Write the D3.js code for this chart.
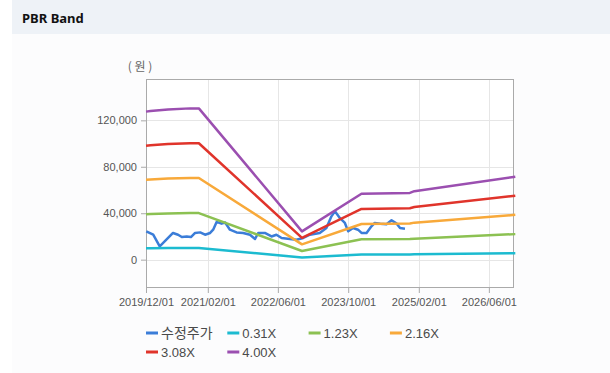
<!DOCTYPE html>
<html>
<head>
<meta charset="utf-8">
<script src="https://cdn.jsdelivr.net/npm/d3@7"></script>
<style>
  body { margin: 0; background: #fff; }
  svg { display: block; font-family: "Liberation Sans", Arial, sans-serif; }
</style>
</head>
<body>
<svg id="chart" width="610" height="373"></svg>
<script>
// price line (수정주가)
var priceDates = ["2019-12-03","2020-01-20","2020-03-05","2020-04-20","2020-06-05","2020-07-10","2020-08-05",
  "2020-09-08","2020-10-07","2020-11-05","2020-12-10","2021-01-13","2021-02-17","2021-03-10","2021-04-03",
  "2021-05-07","2021-06-01","2021-07-04","2021-08-19","2021-10-04","2021-11-20","2021-12-25","2022-01-16",
  "2022-03-03","2022-04-18","2022-05-22","2022-06-27","2022-08-23","2022-10-08","2022-11-24","2023-01-09",
  "2023-03-18","2023-05-03","2023-06-07","2023-07-01","2023-08-04","2023-09-08","2023-10-01","2023-11-04",
  "2023-12-08","2024-01-01","2024-02-05","2024-03-10","2024-04-02","2024-05-10","2024-06-22","2024-07-27",
  "2024-09-01","2024-09-24","2024-10-28"];
var priceValues = [24400,21500,11500,17200,23000,21500,19500,
  20000,19500,23000,23500,21500,23000,25800,32500,
  31000,32000,25800,23500,23000,21500,17800,23000,
  23000,20000,21500,18700,17800,17200,18700,21500,
  23000,27300,37300,41600,35900,31600,24400,27300,
  25800,23000,23000,28700,31600,31000,30500,33900,
  31000,27300,26700];

// band lines, shared dates
var bandDates = ["2019-12-01","2020-01-01","2020-05-01","2020-10-01","2020-12-01",
  "2022-11-15","2024-01-01","2024-12-01","2025-01-01","2026-12-01"];
var band031 = [9900, 9900, 10000, 10100, 10100, 1900, 4400, 4500, 4600, 5500];
var band123 = [39200, 39400, 39800, 40100, 40100, 7500, 17500, 17700, 18100, 22000];
var band216 = [68900, 69100, 69800, 70400, 70400, 13200, 30700, 31100, 31900, 38600];
var band308 = [98200, 98600, 99600, 100300, 100300, 18800, 43700, 44300, 45400, 55100];
var band400 = [127500, 128000, 129300, 130300, 130300, 24400, 56800, 57500, 59000, 71500];

var seriesNames = ["수정주가", "0.31X", "1.23X", "2.16X", "3.08X", "4.00X"];
var seriesColors = ["#3b7dd8", "#1cbbd0", "#8cc152", "#f8a93a", "#e0342b", "#9b4fb0"];

var xTicks = ["2019-12-01", "2021-02-01", "2022-06-01", "2023-10-01", "2025-02-01", "2026-06-01"];
var yTicks = [0, 40000, 80000, 120000];

var parse = d3.timeParse("%Y-%m-%d");
var svg = d3.select("#chart");

// panel + title bar
svg.append("rect").attr("x", 12).attr("y", 0).attr("width", 598).attr("height", 373).attr("fill", "#fcfcfd");
svg.append("rect").attr("x", 12).attr("y", 0).attr("width", 598).attr("height", 34).attr("fill", "#eef2f7");
svg.append("text").attr("x", 22).attr("y", 22.5)
  .attr("font-family", "'Noto Sans', 'Liberation Sans', sans-serif")
  .attr("font-size", 13).attr("font-weight", "bold").attr("fill", "#111")
  .text("PBR Band");

var plotL = 146, plotR = 514, plotT = 79, plotB = 288;

var x = d3.scaleTime()
  .domain([parse("2019-12-01"), parse("2026-11-22")])
  .range([plotL, plotR]);
var y = d3.scaleLinear()
  .domain([-24400, 155600])
  .range([plotB, plotT]);

svg.append("rect").attr("x", plotL).attr("y", plotT)
  .attr("width", plotR - plotL).attr("height", plotB - plotT).attr("fill", "#fff");

// grid
var grid = svg.append("g").attr("stroke", "#e6e6e6").attr("stroke-width", 1);
grid.selectAll(".gx").data(xTicks).enter().append("line")
  .attr("x1", function(d) { return Math.round(x(parse(d))) + 0.5; })
  .attr("x2", function(d) { return Math.round(x(parse(d))) + 0.5; })
  .attr("y1", plotT).attr("y2", plotB);
grid.selectAll(".gy").data(yTicks).enter().append("line")
  .attr("x1", plotL).attr("x2", plotR)
  .attr("y1", function(d) { return Math.round(y(d)) + 0.5; })
  .attr("y2", function(d) { return Math.round(y(d)) + 0.5; });

// axes
var xAxis = d3.axisBottom(x)
  .tickValues(xTicks.map(parse))
  .tickFormat(d3.timeFormat("%Y/%m/%d"))
  .tickSize(5).tickSizeOuter(0).tickPadding(5);
var yAxis = d3.axisLeft(y)
  .tickValues(yTicks)
  .tickFormat(d3.format(","))
  .tickSize(5).tickSizeOuter(0).tickPadding(4);

var gx = svg.append("g").attr("transform", "translate(0," + plotB + ")").call(xAxis);
var gy = svg.append("g").attr("transform", "translate(" + plotL + ",0)").call(yAxis);
[gx, gy].forEach(function(g) {
  g.select(".domain").remove();
  g.selectAll(".tick line").attr("stroke", "#aaa");
  g.selectAll("text").attr("fill", "#555").attr("font-size", 11);
});

// frame
svg.append("rect").attr("x", plotL + 0.5).attr("y", plotT + 0.5)
  .attr("width", plotR - plotL - 1).attr("height", plotB - plotT - 1)
  .attr("fill", "none").attr("stroke", "#aaa");

svg.append("text").attr("x", 140).attr("y", 71).attr("text-anchor", "middle")
  .attr("font-size", 12).attr("fill", "#666")
  .attr("font-family", "'Noto Sans CJK KR', sans-serif")
  .attr("xml:space", "preserve")
  .text("( 원 )");

// lines
var line = d3.line()
  .x(function(d) { return x(d[0]); })
  .y(function(d) { return y(d[1]); });

var series = [
  priceDates.map(function(d, i) { return [parse(d), priceValues[i]]; })
];
[band031, band123, band216, band308, band400].forEach(function(vals) {
  series.push(bandDates.map(function(d, i) { return [parse(d), vals[i]]; }));
});

svg.append("g").selectAll("path").data(series).enter().append("path")
  .attr("d", line)
  .attr("fill", "none")
  .attr("stroke", function(d, i) { return seriesColors[i]; })
  .attr("stroke-width", 2.5)
  .attr("stroke-linejoin", "round");

// legend
var legend = svg.append("g");
var item = legend.selectAll("g").data(seriesNames).enter().append("g")
  .attr("transform", function(d, i) {
    return "translate(" + (146 + (i % 4) * 81.3) + "," + (333 + Math.floor(i / 4) * 19) + ")";
  });
item.append("line").attr("x1", 0).attr("x2", 12).attr("y1", 0).attr("y2", 0)
  .attr("stroke-width", 3)
  .attr("stroke", function(d, i) { return seriesColors[i]; });
item.append("text").attr("x", 15).attr("y", 4.5)
  .attr("fill", "#4a4a4a")
  .attr("font-size", function(d, i) { return i === 0 ? 14 : 13; })
  .attr("font-family", function(d, i) { return i === 0 ? "'Noto Sans CJK KR', sans-serif" : "'Liberation Sans', Arial, sans-serif"; })
  .text(function(d) { return d; });
</script>
</body>
</html>
